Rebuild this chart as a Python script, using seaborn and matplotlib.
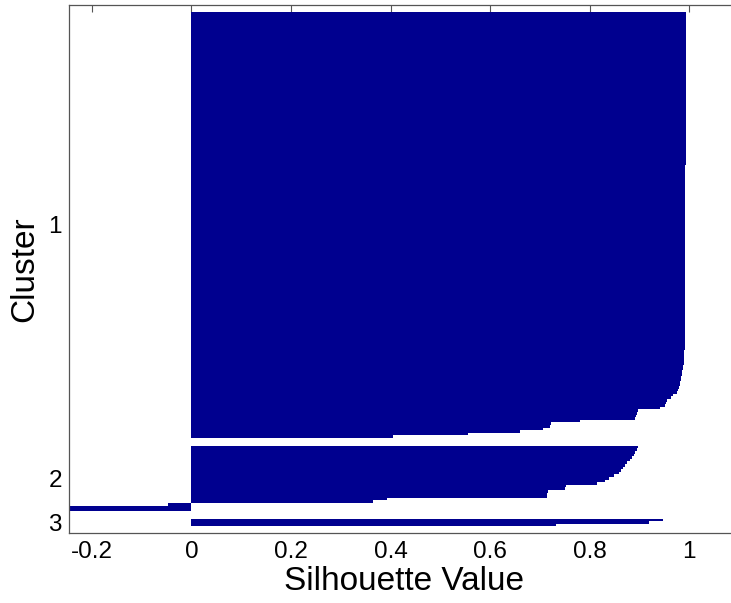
import numpy as np
import pandas as pd
import matplotlib
matplotlib.use("Agg")
import matplotlib.pyplot as plt
import seaborn as sns

# ---- data (silhouette values, sorted descending within each cluster) ----
cluster_names = ["1", "2", "3"]
c1_levels = [0.994, 0.993, 0.992, 0.991, 0.990]
c1_level_counts = [9, 50, 50, 21, 6]
c1_tail = [0.988, 0.987, 0.986, 0.985, 0.984, 0.983, 0.982, 0.981, 0.980,
           0.977, 0.975, 0.967, 0.964, 0.955, 0.954, 0.952, 0.942, 0.897,
           0.895, 0.893, 0.891, 0.781, 0.722, 0.720, 0.706, 0.660, 0.555, 0.404]
c2_values = [0.897, 0.895, 0.891, 0.889, 0.886, 0.881, 0.876, 0.871, 0.866,
             0.862, 0.858, 0.848, 0.838, 0.831, 0.814, 0.752, 0.750, 0.716,
             0.715, 0.714, 0.392, 0.365, -0.048, -0.30, -0.30]
c3_values = [0.948, 0.920, 0.733]
xticks = [-0.2, 0, 0.2, 0.4, 0.6, 0.8, 1]
xtick_labels = ["-0.2", "0", "0.2", "0.4", "0.6", "0.8", "1"]

sns.set_style("white")
plt.rcParams["font.family"] = ["Liberation Sans", "DejaVu Sans"]
plt.rcParams["axes.labelcolor"] = "black"
plt.rcParams["text.color"] = "black"

clusters = [np.concatenate([np.repeat(c1_levels, c1_level_counts), c1_tail]),
            np.array(c2_values), np.array(c3_values)]
n = sum(len(c) for c in clusters)
space = max(int(0.02 * n), 2)
rows, vals, tick_pos = [], [], []
pos = space + 1
for c in clusters:
    r = np.arange(pos, pos + len(c))
    rows += list(r)
    vals += list(c)
    tick_pos.append(r.mean())
    pos += len(c) + space
L = pos - 1

df = pd.DataFrame({"row": rows, "value": vals})

fig = plt.figure(figsize=(7.31, 6.03), dpi=100)
ax = fig.add_axes([69 / 731, 1 - 533 / 603, (739 - 69) / 731, (533 - 5) / 603])

sns.barplot(data=df, x="value", y="row", orient="y", native_scale=True,
            width=1.0, color="#00008F", saturation=1, errorbar=None,
            linewidth=0, ax=ax)

ax.set_xlim(-0.246, 1.1)
ax.set_ylim(L, 1)
ax.set_xticks(xticks)
ax.set_xticklabels(xtick_labels)
ax.set_yticks(tick_pos)
ax.set_yticklabels(cluster_names)
ax.set_xlabel("Silhouette Value", fontsize=24, labelpad=2, color="black")
ax.set_ylabel("Cluster", fontsize=24, labelpad=6, color="black")
ax.tick_params(direction="in", top=True, right=True, length=5, width=0.8,
               color="#555555", labelsize=17.5, labelcolor="black")
ax.tick_params(axis="x", pad=6)
ax.tick_params(axis="y", pad=5)
for s in ax.spines.values():
    s.set_visible(True)
    s.set_color("#555555")
    s.set_linewidth(0.9)
ax.grid(False)

fig.savefig("out.png", dpi=100)
